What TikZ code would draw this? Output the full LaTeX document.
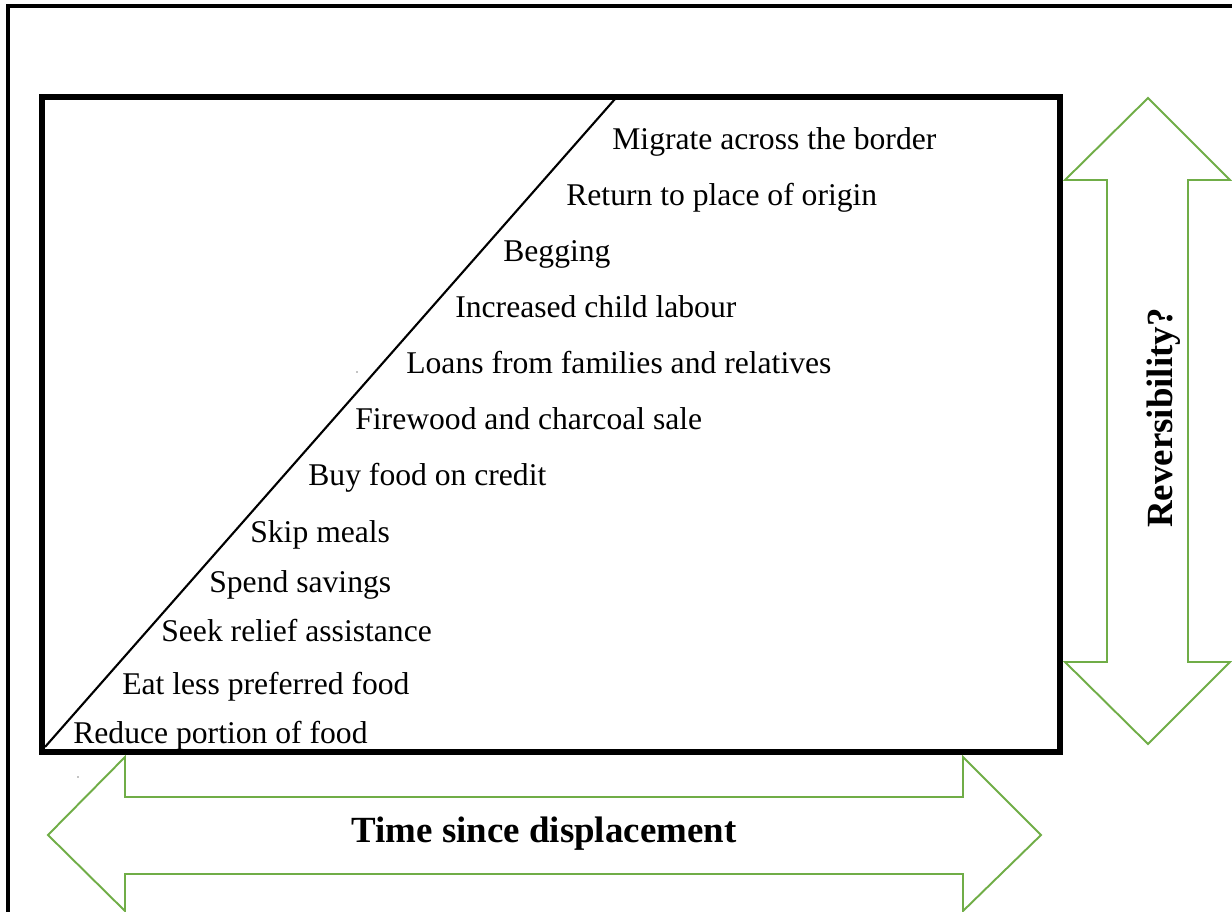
\documentclass[tikz,border=0pt]{standalone}
\usepackage{fontspec}
\setmainfont{Liberation Serif}
\usetikzlibrary{calc}
\definecolor{arrowgreen}{RGB}{112,173,71}
\tikzset{
	step label/.style={anchor=base west, inner sep=0pt, font=\fontsize{18}{20}\selectfont},
	axis label/.style={anchor=base, inner sep=0pt, font=\fontsize{21}{24}\selectfont\bfseries},
	green arrow/.style={draw=arrowgreen, line width=1.1pt, line join=miter},
}

\begin{document}
\begin{tikzpicture}[x=0.02cm, y=-0.02cm]
				%%%%% START %%%%%
				\useasboundingbox (0, 0) rectangle (1232, 912);
				
				% outer frame, runs off the page on the right and bottom
				\draw[line width=2pt] (8, 930) -- (8, 6) -- (1250, 6);
				
				% inner box and its diagonal
				\draw[line width=3.2pt] (42, 97) rectangle (1060, 752);
				\coordinate (low) at (45, 747);
				\coordinate (high) at (615, 99);
				\draw[line width=1.2pt] (low) -- (high);
				
				% coping steps, lowest first
				\node[step label] (s1) at (73, 743) {Reduce portion of food};
				\node[step label] (s2) at (122, 694) {Eat less preferred food};
				\node[step label] (s3) at (161, 642) {Seek relief assistance};
				\node[step label] (s4) at (209, 592) {Spend savings};
				\node[step label] (s5) at (250, 542) {Skip meals};
				\node[step label] (s6) at (308, 486) {Buy food on credit};
				\node[step label] (s7) at (355, 430) {Firewood and charcoal sale};
				\node[step label] (s8) at (406, 374) {Loans from families and relatives};
				\node[step label] (s9) at (455, 318) {Increased child labour};
				\node[step label] (s10) at (503, 262) {Begging};
				\node[step label] (s11) at (566, 206) {Return to place of origin};
				\node[step label] (s12) at (612, 150) {Migrate across the border};
				
				% stray specks
				\fill (357, 372) circle (0.6);
				\fill (78, 777) circle (0.6);
				
				% vertical double arrow
				\draw[green arrow] (1148, 98) -- (1230, 180) -- (1188, 180) -- (1188, 662)
					-- (1230, 662) -- (1148, 744) -- (1065, 662) -- (1107, 662)
					-- (1107, 180) -- (1065, 180) -- cycle;
				\node[axis label, rotate=90] (rev) at (1172, 418) {Reversibility?};
				
				% horizontal double arrow
				\draw[green arrow] (48, 835) -- (125, 757) -- (125, 797) -- (963, 797)
					-- (963, 757) -- (1041, 835) -- (963, 911) -- (963, 874)
					-- (125, 874) -- (125, 911) -- cycle;
				\node[axis label] (time) at (544, 842) {Time since displacement};
				%%%%% END %%%%%
\end{tikzpicture}
\end{document}
